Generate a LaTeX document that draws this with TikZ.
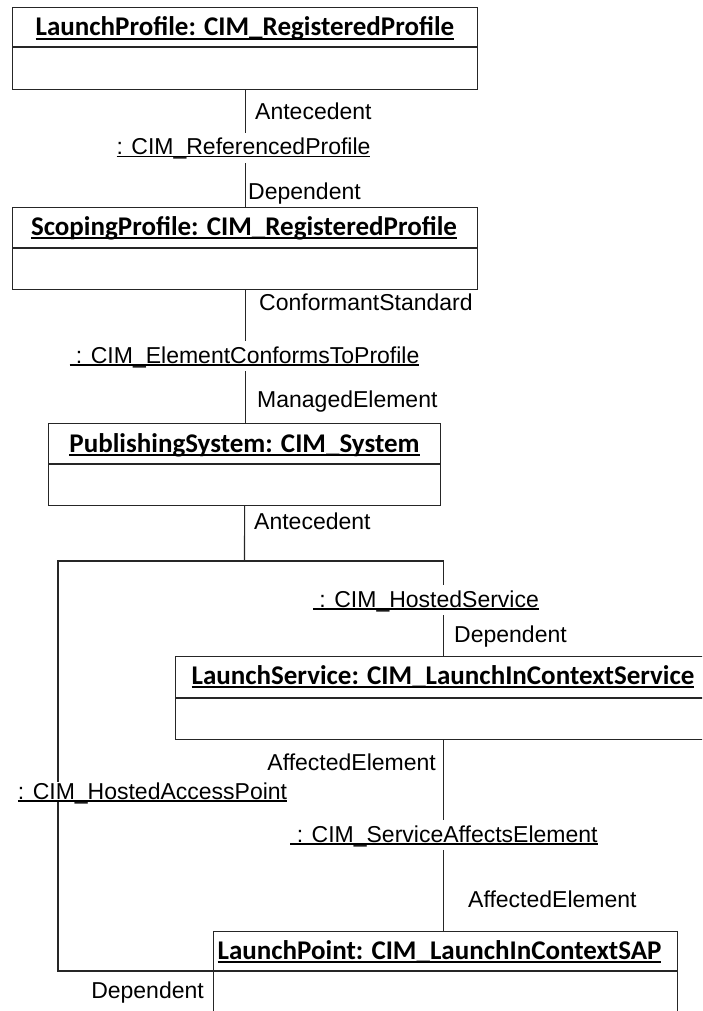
\documentclass[tikz,border=0pt]{standalone}
\usepackage{fontspec}
\setmainfont{Liberation Sans}
\newfontfamily\classfont{Carlito}
\usetikzlibrary{calc}

% underlined text with a rule at a fixed depth below the baseline
\newcommand\tul[1]{\setbox0=\hbox{#1}\rlap{\vrule height -2.4pt depth 3.8pt width \wd0}\box0}
\newcommand\lul[1]{\setbox0=\hbox{#1}\rlap{\vrule height -1.3pt depth 2.5pt width \wd0}\box0}

\tikzset{
  classbox/.style={draw=black!85, line width=1.2pt, inner sep=0pt, anchor=north west},
  divider/.style={draw=black!85, line width=1.2pt},
  classname/.style={anchor=base, inner sep=0pt, font=\classfont\bfseries\fontsize{27}{32}\selectfont},
  assoc/.style={draw=black!85, line width=1.1pt},
  assocname/.style={anchor=base, fill=white, inner xsep=2pt, inner ysep=5pt,
    text height=17pt, text depth=3pt, font=\fontsize{23}{27}\selectfont},
  rolename/.style={inner sep=0pt, font=\fontsize{23}{27}\selectfont},
}

\begin{document}
\begin{tikzpicture}[x=1pt, y=-1pt]
\path[use as bounding box, clip] (0,0) rectangle (702,1011);

% ---- class instances ----
\node[classbox, minimum width=465pt, minimum height=82pt] (b1) at (12,7) {};
\node[classbox, minimum width=465pt, minimum height=82pt] (b2) at (12,207) {};
\node[classbox, minimum width=392pt, minimum height=82pt] (b3) at (48,423) {};
\node[classbox, minimum width=536pt, minimum height=83pt] (b4) at (175,656) {};
\node[classbox, minimum width=464pt, minimum height=120pt] (b5) at (213,931) {};

\draw[divider] ($(b1.north west)+(0,40)$) -- ($(b1.north east)+(0,40)$);
\draw[divider] ($(b2.north west)+(0,41)$) -- ($(b2.north east)+(0,41)$);
\draw[divider] ($(b3.north west)+(0,41)$) -- ($(b3.north east)+(0,41)$);
\draw[divider] ($(b4.north west)+(0,42)$) -- ($(b4.north east)+(0,42)$);
\coordinate (b5d) at ($(b5.north west)+(0,40)$);
\draw[divider] (b5d) -- ($(b5.north east)+(0,40)$);

\node[classname] (t1) at (245,36) {\tul{LaunchProfile: CIM\_RegisteredProfile}};
\node[classname] (t2) at (244,235) {\tul{ScopingProfile: CIM\_RegisteredProfile}};
\node[classname] (t3) at (244.5,452) {\tul{PublishingSystem: CIM\_System}};
\node[classname] (t4) at (443,684) {\tul{LaunchService: CIM\_LaunchInContextService}};
\node[classname] (t5) at (439.5,959) {\tul{LaunchPoint: CIM\_LaunchInContextSAP}};

% ---- associations ----
\coordinate (j) at (244.5,561);
\coordinate (bend) at (58,561);
\draw[assoc] (b1.south) -- (b2.north);
\draw[assoc] (b2.south) -- (b2.south |- b3.north);
\draw[assoc] (b3.south) -- (j);
\draw[assoc] (j) -| (b4.north);
\draw[assoc] (j) -- (bend) |- (b5d);
\draw[assoc] (b4.south) -- (b4.south |- b5.north);

\node[assocname] (a1) at (243.5,155) {\lul{: CIM\_ReferencedProfile}};
\node[assocname] (a2) at (244.5,363) {\lul{\ : CIM\_ElementConformsToProfile}};
\node[assocname] (a3) at (426,607) {\lul{\ : CIM\_HostedService}};
\node[assocname, inner ysep=0pt] (a5) at (152.5,799) {\lul{: CIM\_HostedAccessPoint}};
\node[assocname] (a4) at (444,842) {\lul{\ : CIM\_ServiceAffectsElement}};

% ---- role names ----
\node[rolename, anchor=base west] (r1) at (255,120) {Antecedent};
\node[rolename, anchor=base west] (r2) at (248,199) {Dependent};
\node[rolename, anchor=base west] (r3) at (259,310) {ConformantStandard};
\node[rolename, anchor=base west] (r4) at (257,407) {ManagedElement};
\node[rolename, anchor=base west] (r5) at (254,529) {Antecedent};
\node[rolename, anchor=base west] (r6) at (454,642) {Dependent};
\node[rolename, anchor=base east] (r7) at (436,770) {AffectedElement};
\node[rolename, anchor=base west] (r8) at (468,907) {AffectedElement};
\node[rolename, anchor=base east] (r9) at (204,998) {Dependent};
\end{tikzpicture}
\end{document}
